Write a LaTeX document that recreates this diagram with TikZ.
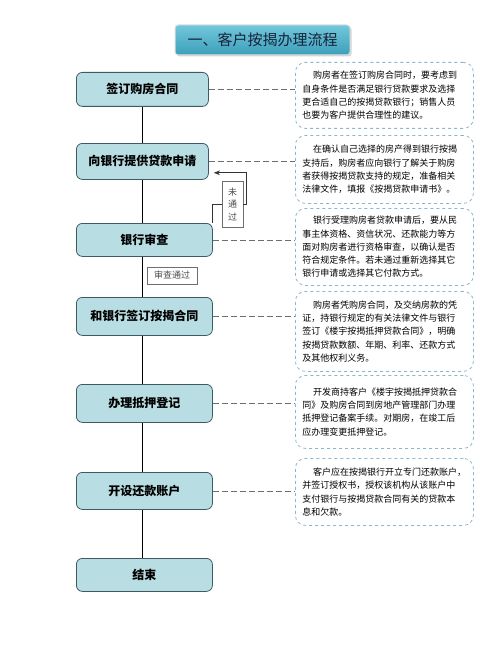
\documentclass[tikz,border=0pt]{standalone}
\usepackage{fontspec}
\setmainfont{Noto Sans CJK SC}
\usetikzlibrary{arrows.meta, positioning, calc, shadows}
\definecolor{StepFill}{HTML}{B8DDE3}
\definecolor{StepLine}{HTML}{3E5A64}
\definecolor{NoteLine}{HTML}{8DB6CB}
\definecolor{TitleTop}{HTML}{72C7DB}
\definecolor{TitleBot}{HTML}{3C9FBA}
\definecolor{LinkGray}{HTML}{6E6E6E}
\definecolor{TitleText}{HTML}{16233A}

\begin{document}
\begin{tikzpicture}[
    x=1pt, y=-1pt, >=Stealth,
    titlebox/.style={draw=white!75!gray, line width=1pt, rounded corners=3pt,
      top color=TitleTop, bottom color=TitleBot, minimum width=175, minimum height=30,
      drop shadow={opacity=0.35, shadow xshift=1.5pt, shadow yshift=-1.5pt},
      text=TitleText, font=\fontsize{15}{17}\selectfont},
    stepbox/.style 2 args={draw=StepLine, fill=StepFill, line width=0.8pt, rounded corners=6pt,
      anchor=north west, minimum width=#1, minimum height=#2, inner sep=0pt,
      font=\fontsize{12}{14}\selectfont\bfseries},
    notebox/.style={draw=NoteLine, dashed, line width=0.8pt, rounded corners=10pt,
      anchor=north west, minimum width=178, minimum height=#1, text width=164,
      inner sep=0pt, align=left, font=\fontsize{9}{13.3}\selectfont},
    tagbox/.style={draw=LinkGray, fill=white, line width=0.7pt, inner sep=0pt,
      text=black!70, font=\fontsize{9}{12.5}\selectfont},
    flowline/.style={line width=1.6pt},
    noteline/.style={LinkGray, dashed, dash pattern=on 6pt off 3pt, line width=0.7pt},
    backline/.style={black!80, line width=0.7pt},
  ]
  \useasboundingbox (0,0) rectangle (500,658);
  % 标题
  \node[titlebox] (title) at (262.5,40) {一、客户按揭办理流程};
  % 左侧流程
  \node[stepbox={132}{34}] (b1) at (76,72)  {签订购房合同};
  \node[stepbox={132}{36}] (b2) at (76,143) {向银行提供贷款申请};
  \node[stepbox={136}{33}] (b3) at (76,223) {银行审查};
  \node[stepbox={136}{38}] (b4) at (76,297) {和银行签订按揭合同};
  \node[stepbox={136}{38}] (b5) at (76,384) {办理抵押登记};
  \node[stepbox={136}{37}] (b6) at (76,472) {开设还款账户};
  \node[stepbox={136}{33}] (b7) at (76,558) {结束};
  % 右侧说明
  \node[notebox=66] (n1) at (295,62) {\hspace*{1.2em}购房者在签订购房合同时，要考虑到\\
    自身条件是否满足银行贷款要求及选择\\更合适自己的按揭贷款银行；销售人员\\
    也要为客户提供合理性的建议。};
  \node[notebox=68] (n2) at (295,135) {\hspace*{1.2em}在确认自己选择的房产得到银行按揭\\
    支持后，购房者应向银行了解关于购房\\者获得按揭贷款支持的规定，准备相关\\
    法律文件，填报《按揭贷款申请书》。};
  \node[notebox=77] (n3) at (295,208) {\hspace*{1.2em}银行受理购房者贷款申请后，要从民\\
    事主体资格、资信状况、还款能力等方\\面对购房者进行资格审查，以确认是否\\
    符合规定条件。若未通过重新选择其它\\银行申请或选择其它付款方式。};
  \node[notebox=80] (n4) at (295,291) {\hspace*{1.2em}购房者凭购房合同，及交纳房款的凭\\
    证，持银行规定的有关法律文件与银行\\签订《楼宇按揭抵押贷款合同》，明确\\
    按揭贷款数额、年期、利率、还款方式\\及其他权利义务。};
  \node[notebox=73] (n5) at (295,375) {\hspace*{1.2em}开发商持客户《楼宇按揭抵押贷款合\\
    同》及购房合同到房地产管理部门办理\\抵押登记备案手续。对期房，在竣工后\\
    应办理变更抵押登记。};
  \node[notebox=67] (n6) at (295,458) {\hspace*{1.2em}客户应在按揭银行开立专门还款账户，\\
    并签订授权书，授权该机构从该账户中\\支付银行与按揭贷款合同有关的贷款本\\
    息和欠款。};
  % 主流程线
  \draw[flowline] (b1.south) -- (b2.north);
  \foreach \i/\j in {2/3, 3/4, 4/5, 5/6, 6/7}
    \draw[flowline] (b\i.south -| b1.south) -- (b\j.north -| b1.south);
  % 虚线连接
  \foreach \i in {1,...,6}
    \draw[noteline] (b\i.east) -- (b\i.east -| n\i.west);
  % 审查结果
  \node[tagbox, minimum width=50, minimum height=17] (pass) at (172,275.5) {审查通过};
  \node[tagbox, minimum width=21, minimum height=46, align=center] (fail) at (232.5,204) {未\\通\\过};
  \draw[backline] (b3.north east) |- (fail.west);
  \draw[backline, ->] (fail.east) -- ++(3,0) |- ($(b2.south east)+(5,-7)$);
\end{tikzpicture}
\end{document}
